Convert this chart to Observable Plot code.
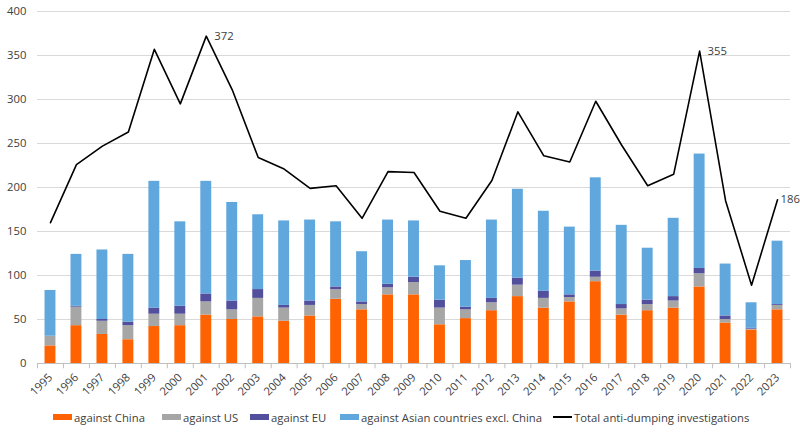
<!DOCTYPE html>
<html>
<head>
<meta charset="utf-8">
<script src="https://cdn.jsdelivr.net/npm/d3@7"></script>
<script src="https://cdn.jsdelivr.net/npm/@observablehq/plot@0.6"></script>
<style>
  body { margin: 0; background: #fff; font-family: "Open Sans", sans-serif; }
  #wrap { position: relative; width: 800px; height: 433px; }
  #legend { position: absolute; left: 0; top: 400px; width: 800px; height: 33px; font-size: 11.3px; color: #404040; }
  .item { position: absolute; top: 8px; height: 18px; display: flex; align-items: center; white-space: nowrap; }
  .sw { width: 19px; height: 6px; margin-right: 2px; }
  .ln { width: 19px; height: 2px; background: #000; margin-right: 2px; }
</style>
</head>
<body>
<div id="wrap">
  <div id="chart"></div>
  <div id="legend"></div>
</div>
<script>
const years = ["1995","1996","1997","1998","1999","2000","2001","2002","2003","2004","2005","2006","2007","2008","2009","2010","2011","2012","2013","2014","2015","2016","2017","2018","2019","2020","2021","2022","2023"];
const againstChina = [20,43,33,27,42,43,55,50,53,48,54,73,61,78,78,44,51,60,76,63,70,93,55,60,63,87,46,38,61];
const againstUS    = [11,21,15,16,14,13,15,11,21,15,12,11,6,8,14,19,10,9,13,11,5,5,7,7,8,15,4,1,5];
const againstEU    = [0,1,2,4,7,9,9,10,10,3,5,3,3,4,6,9,3,5,8,8,3,7,5,5,5,6,4,1,1];
const againstAsia  = [52,59,79,77,144,96,128,112,85,96,92,74,57,73,64,39,53,89,101,91,77,106,90,59,89,130,59,29,72];
const totalInvestigations = [160,226,247,263,357,295,372,311,234,221,199,202,165,218,217,173,165,208,286,236,229,298,248,202,215,355,185,89,186];
const seriesNames = ["against China","against US","against EU","against Asian countries excl. China"];
const seriesColors = ["#ff6200","#a6a6a6","#524f9c","#5fa7dc"];
const yTicks = [0,50,100,150,200,250,300,350,400];
const peakLabelYears = ["2001","2020"];
const endLabelYears = ["2023"];

const seriesValues = [againstChina, againstUS, againstEU, againstAsia];
const stacked = [];
years.forEach((yr, i) => {
  seriesNames.forEach((s, k) => stacked.push({year: yr, series: s, value: seriesValues[k][i]}));
});
const totals = years.map((yr, i) => ({year: yr, total: totalInvestigations[i]}));
const peakLabels = totals.filter(d => peakLabelYears.includes(d.year));
const endLabels = totals.filter(d => endLabelYears.includes(d.year));

const W = 800, H = 400, mL = 37, mR = 10;
const step = (W - mL - mR) / years.length;

const chart = Plot.plot({
  width: W,
  height: H,
  marginLeft: mL,
  marginRight: mR,
  marginTop: 11,
  marginBottom: 37,
  style: {fontFamily: "Open Sans, sans-serif", fontSize: "11.3px", color: "#404040", background: "#fff", overflow: "visible"},
  x: {domain: years, paddingInner: 0.58, paddingOuter: 0.29, round: false},
  y: {domain: [0, 400]},
  color: {domain: seriesNames, range: seriesColors},
  marks: [
    Plot.gridY(yTicks.filter(d => d > 0), {stroke: "#d9d9d9", strokeOpacity: 1}),
    Plot.axisY(yTicks, {tickSize: 0, tickPadding: 11, label: null, fill: "#404040"}),
    Plot.barY(stacked, {x: "year", y: "value", fill: "series", order: seriesNames}),
    Plot.ruleY([0], {stroke: "#bfbfbf"}),
    Plot.ruleX(years, {x: d => d, dx: -step / 2, y1: 0, y2: -6, stroke: "#bfbfbf"}),
    Plot.ruleX(years.slice(-1), {x: d => d, dx: step / 2, y1: 0, y2: -6, stroke: "#bfbfbf"}),
    Plot.axisX({tickSize: 0, tickPadding: 12, tickRotate: -45, label: null, fill: "#404040"}),
    Plot.line(totals, {x: "year", y: "total", stroke: "#000", strokeWidth: 1.6}),
    Plot.text(peakLabels, {x: "year", y: "total", text: d => String(d.total), textAnchor: "start", dx: 8, fill: "#404040"}),
    Plot.text(endLabels, {x: "year", y: "total", text: d => String(d.total), textAnchor: "start", dx: 3, fill: "#404040"})
  ]
});
document.getElementById("chart").appendChild(chart);

const legendItems = [
  {name: seriesNames[0], color: seriesColors[0], left: 53},
  {name: seriesNames[1], color: seriesColors[1], left: 162},
  {name: seriesNames[2], color: seriesColors[2], left: 250},
  {name: seriesNames[3], color: seriesColors[3], left: 340},
  {name: "Total anti-dumping investigations", color: null, left: 553}
];
const lg = document.getElementById("legend");
legendItems.forEach(it => {
  const d = document.createElement("div");
  d.className = "item";
  d.style.left = it.left + "px";
  const sw = document.createElement("span");
  if (it.color) { sw.className = "sw"; sw.style.background = it.color; } else { sw.className = "ln"; }
  d.appendChild(sw);
  const t = document.createElement("span");
  t.textContent = it.name;
  d.appendChild(t);
  lg.appendChild(d);
});
</script>
</body>
</html>
